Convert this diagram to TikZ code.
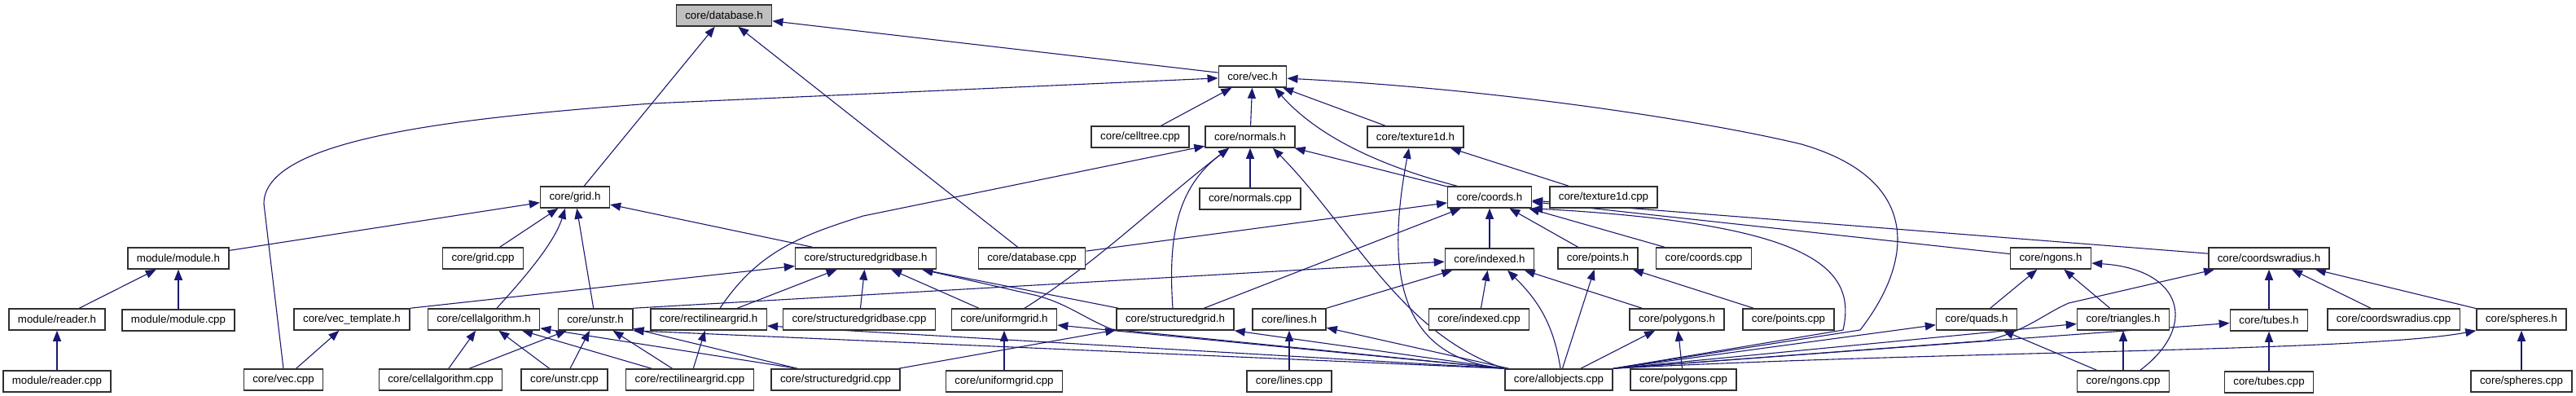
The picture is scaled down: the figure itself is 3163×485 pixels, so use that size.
\documentclass[tikz,border=0pt]{standalone}
\usepackage{fontspec}
\setmainfont{Liberation Sans}
\usepackage{tikz}
\usetikzlibrary{
  arrows.meta,
  positioning,
  backgrounds
}
\usepackage{xcolor}
\definecolor{edgeblue}{HTML}{191970}
\definecolor{rootgray}{HTML}{BFBFBF}
\definecolor{boxline}{HTML}{303030}
\tikzset{
  file/.style={
    rectangle, draw=boxline, fill=white, line width=1.5pt,
    minimum height=26pt, inner xsep=11pt, inner ysep=0pt,
    font=\fontsize{13.3}{15}\selectfont, text centered
  },
  rootfile/.style={file, fill=rootgray},
  incl/.style={-{Triangle[length=13pt,width=10pt]}, draw=edgeblue, line width=1.1pt},
}

\begin{document}
\begin{tikzpicture}[x=1pt, y=-1pt, node distance=48.5pt]
\useasboundingbox (0,0) rectangle (3163,485);

% rank 0 and 1
\node[rootfile] (database) at (889,19) {core/database.h};
\node[file] (vech) at (1538,94) {core/vec.h};

% rank 2
\node[file] (celltree) at (1400,168) {core/celltree.cpp};
\node[file] (normals) at (1535,168) {core/normals.h};
\node[file] (texture) at (1738,168) {core/texture1d.h};

% rank 3
\node[file] (grid) at (706,242) {core/grid.h};
\node[file, below=of normals] (normalscpp) {core/normals.cpp};
\node[file] (coords) at (1829,242) {core/coords.h};
\node[file] (texturecpp) at (1969,242) {core/texture1d.cpp};

% rank 4
\node[file] (module) at (219,317) {module/module.h};
\node[file] (gridcpp) at (593,317) {core/grid.cpp};
\node[file] (sgbase) at (1063,317) {core/structuredgridbase.h};
\node[file] (databasecpp) at (1267,317) {core/database.cpp};
\node[file, below=of coords] (indexed) {core/indexed.h};
\node[file] (points) at (1962,317) {core/points.h};
\node[file] (coordscpp) at (2092,317) {core/coords.cpp};
\node[file] (ngons) at (2518,317) {core/ngons.h};
\node[file] (cwr) at (2786,317) {core/coordswradius.h};

% rank 5
\node[file] (reader) at (70,392) {module/reader.h};
\node[file, below=of module] (modulecpp) {module/module.cpp};
\node[file] (vectmpl) at (432,392) {core/vec\_template.h};
\node[file] (cellalg) at (594,392) {core/cellalgorithm.h};
\node[file] (unstr) at (731,392) {core/unstr.h};
\node[file] (rectgrid) at (870,392) {core/rectilineargrid.h};
\node[file] (sgbasecpp) at (1055,392) {core/structuredgridbase.cpp};
\node[file] (unigrid) at (1233,392) {core/uniformgrid.h};
\node[file] (sgrid) at (1443,392) {core/structuredgrid.h};
\node[file] (lines) at (1583,392) {core/lines.h};
\node[file] (indexedcpp) at (1816,392) {core/indexed.cpp};
\node[file] (polygons) at (2059,392) {core/polygons.h};
\node[file] (pointscpp) at (2196,392) {core/points.cpp};
\node[file] (quads) at (2427,392) {core/quads.h};
\node[file] (triangles) at (2607,392) {core/triangles.h};
\node[file, below=of cwr] (tubes) {core/tubes.h};
\node[file] (cwrcpp) at (2939,392) {core/coordswradius.cpp};
\node[file] (spheres) at (3096,392) {core/spheres.h};

% rank 6
\node[file, below=of reader] (readercpp) {module/reader.cpp};
\node[file] (veccpp) at (348,466) {core/vec.cpp};
\node[file] (cellalgcpp) at (541,466) {core/cellalgorithm.cpp};
\node[file] (unstrcpp) at (693,466) {core/unstr.cpp};
\node[file] (rectgridcpp) at (847,466) {core/rectilineargrid.cpp};
\node[file] (sgridcpp) at (1026,466) {core/structuredgrid.cpp};
\node[file, below=of unigrid] (unigridcpp) {core/uniformgrid.cpp};
\node[file, below=of lines] (linescpp) {core/lines.cpp};
\node[file] (allobjects) at (1914,466) {core/allobjects.cpp};
\node[file] (polygonscpp) at (2067,466) {core/polygons.cpp};
\node[file, below=of triangles] (ngonscpp) {core/ngons.cpp};
\node[file, below=of tubes] (tubescpp) {core/tubes.cpp};
\node[file, below=of spheres] (spherescpp) {core/spheres.cpp};

\begin{scope}[on background layer]
% includes of database.h and vec.h
\draw[incl] (grid) -- (database);
\draw[incl] (databasecpp) -- (database);
\draw[incl] (vech) -- (database);
\draw[incl] (veccpp.north) -- (324,250) .. controls (324,170) and (560,145) .. (800,127) -- (vech);
\draw[incl] (celltree) -- (vech);
\draw[incl] (normals) -- (vech);
\draw[incl] (texture) -- (vech);
\draw[incl] ([xshift=-40pt]coords.north) .. controls (1700,205) and (1620,170) .. ([xshift=27pt]vech.south);
\draw[incl] (allobjects.north east) -- (2284,405) .. controls (2350,320) and (2360,220) .. (2212,177) .. controls (2100,150) and (1850,110) .. (vech);

% normals.h and texture1d.h
\draw[incl] (normalscpp) -- (normals);
\draw[incl] ([xshift=14pt]rectgrid.north) .. controls (930,310) and (980,290) .. (1060,265) -- (normals);
\draw[incl] ([xshift=25pt]unigrid.north) .. controls (1350,320) and (1420,250) .. ([xshift=-26pt]normals.south);
\draw[incl] ([xshift=-3pt]sgrid.north) .. controls (1434,290) and (1445,230) .. ([xshift=-26pt]normals.south);
\draw[incl] (allobjects.north west) .. controls (1720,410) and (1660,280) .. ([xshift=28pt]normals.south);
\draw[incl] (coords) -- (normals);
\draw[incl] (allobjects.north west) .. controls (1720,440) and (1700,340) .. ([xshift=-8pt]texture.south);
\draw[incl] (texturecpp) -- (texture);

% coords.h
\draw[incl] (databasecpp) -- (coords);
\draw[incl] (sgrid) -- (coords);
\draw[incl] (indexed) -- (coords);
\draw[incl] (points) -- (coords);
\draw[incl] (coordscpp) -- (coords);
\draw[incl] (allobjects.north east) -- (2263,405) .. controls (2280,330) and (2230,275) .. (coords.south east);
\draw[incl] (ngons) -- (coords);
\draw[incl] (cwr) -- (coords);

% grid.h and module.h
\draw[incl] (module) -- (grid);
\draw[incl] (gridcpp) -- (grid);
\draw[incl] ([xshift=16pt]cellalg.north) .. controls (640,345) and (680,300) .. ([xshift=-12pt]grid.south);
\draw[incl] (unstr) -- (grid);
\draw[incl] (sgbase) -- (grid);
\draw[incl] (reader) -- (module);
\draw[incl] (modulecpp) -- (module);
\draw[incl] (readercpp) -- (reader);

% structuredgridbase.h
\draw[incl] (vectmpl.north east) -- (sgbase);
\draw[incl] (rectgrid) -- (sgbase);
\draw[incl] (sgbasecpp) -- (sgbase);
\draw[incl] (unigrid) -- (sgbase);
\draw[incl] (sgrid) -- (sgbase);
\draw[incl] (allobjects.north west) -- (1365,404) .. controls (1330,390) and (1310,372) .. (1270,362) -- ([xshift=69pt]sgbase.south);

% grids
\draw[incl] (veccpp) -- (vectmpl);
\draw[incl] (cellalgcpp) -- (cellalg);
\draw[incl] (unstrcpp) -- (cellalg);
\draw[incl] (rectgridcpp) -- (cellalg);
\draw[incl] ([xshift=-47pt]sgridcpp.north) -- (cellalg);
\draw[incl] (cellalgcpp) -- (unstr);
\draw[incl] (unstrcpp) -- (unstr);
\draw[incl] (rectgridcpp) -- (unstr);
\draw[incl] ([xshift=-47pt]sgridcpp.north) -- (unstr);
\draw[incl] (allobjects.north west) -- (unstr.south east);
\draw[incl] (unstr.north east) -- (indexed);
\draw[incl] (rectgridcpp) -- (rectgrid);
\draw[incl] (allobjects.north west) -- ([yshift=-8pt]rectgrid.east);
\draw[incl] (unigridcpp) -- (unigrid);
\draw[incl] (allobjects.north west) -- ([yshift=-7pt]unigrid.east);
\draw[incl] (sgridcpp) -- (sgrid);
\draw[incl] (allobjects.north west) -- (sgrid.south east);

% indexed.h, points.h, polygons.h
\draw[incl] (linescpp) -- (lines);
\draw[incl] (allobjects) -- (lines);
\draw[incl] (lines) -- (indexed);
\draw[incl] (indexedcpp) -- (indexed);
\draw[incl] ([xshift=2pt]allobjects.north) .. controls (1908,400) and (1890,370) .. ([xshift=22pt]indexed.south);
\draw[incl] (polygons) -- (indexed);
\draw[incl] (allobjects) -- (points);
\draw[incl] (pointscpp) -- (points);
\draw[incl] (allobjects) -- (polygons);
\draw[incl] (polygonscpp) -- (polygons);

% ngons.h and coordswradius.h
\draw[incl] (allobjects.north east) -- (quads);
\draw[incl] (allobjects.north east) -- (triangles);
\draw[incl] (allobjects.north east) -- (tubes);
\draw[incl] (allobjects.north east) .. controls (2400,430) and (2900,432) .. (spheres.south west);
\draw[incl] (allobjects.north east) -- (2440,418) .. controls (2490,405) and (2510,385) .. (2540,372) -- ([xshift=8pt]cwr.south west);
\draw[incl] (ngonscpp) -- (quads);
\draw[incl] (ngonscpp) -- (triangles);
\draw[incl] ([xshift=21pt]ngonscpp.north) .. controls (2700,400) and (2680,330) .. ([yshift=-6pt]ngons.east);
\draw[incl] (quads) -- (ngons);
\draw[incl] (triangles) -- (ngons);
\draw[incl] (cwrcpp) -- (cwr);
\draw[incl] (tubes) -- (cwr);
\draw[incl] (spheres) -- (cwr);
\draw[incl] (tubescpp) -- (tubes);
\draw[incl] (spherescpp) -- (spheres);
\end{scope}

\end{tikzpicture}
\end{document}
